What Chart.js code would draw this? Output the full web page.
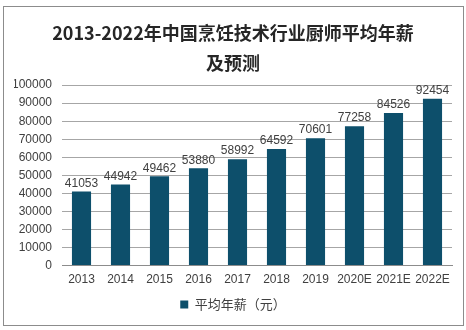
<!DOCTYPE html>
<html>
<head>
<meta charset="utf-8">
<script src="https://cdn.jsdelivr.net/npm/chart.js@4"></script>
<style>
  html, body { margin: 0; padding: 0; background: #fff; }
  #wrap { position: relative; width: 466px; height: 330px; }
  #frame { position: absolute; left: 3px; top: 6px; width: 459px; height: 318px; border: 1px solid #8c8c8c; pointer-events: none; }
</style>
</head>
<body>
<div id="wrap">
  <canvas id="chart" width="466" height="330"></canvas>
  <div id="frame"></div>
</div>
<script>
// 2013-2022年中国烹饪技术行业厨师平均年薪及预测
const years = ['2013', '2014', '2015', '2016', '2017', '2018', '2019', '2020E', '2021E', '2022E'];
const salary = [41053, 44942, 49462, 53880, 58992, 64592, 70601, 77258, 84526, 92454];
const seriesName = '平均年薪（元）';
const titleLines = ['2013-2022年中国烹饪技术行业厨师平均年薪', '及预测'];

// 柱顶数值标签
const valueLabels = {
  id: 'valueLabels',
  afterDatasetsDraw(chart) {
    const ctx = chart.ctx;
    const meta = chart.getDatasetMeta(0);
    ctx.save();
    ctx.font = '12px "Liberation Sans", Arial, sans-serif';
    ctx.fillStyle = '#404040';
    ctx.textAlign = 'center';
    ctx.textBaseline = 'bottom';
    meta.data.forEach((bar, i) => {
      ctx.fillText(String(salary[i]), bar.x, bar.y - 2);
    });
    ctx.restore();
  }
};

new Chart(document.getElementById('chart'), {
  type: 'bar',
  data: {
    labels: years,
    datasets: [{
      label: seriesName,
      data: salary,
      backgroundColor: '#0d4f6b',
      borderWidth: 0,
      categoryPercentage: 1,
      barPercentage: 0.49
    }]
  },
  options: {
    responsive: false,
    animation: false,
    layout: { padding: { left: 14, right: 14, top: 12, bottom: 9 } },
    plugins: {
      title: {
        display: true,
        text: titleLines,
        color: '#262626',
        font: { family: '"Noto Sans CJK SC", sans-serif', size: 18, weight: 'bold', lineHeight: 1.67 },
        padding: { top: 6, bottom: 7 }
      },
      legend: {
        display: true,
        position: 'bottom',
        labels: {
          color: '#404040',
          font: { family: '"Noto Sans CJK SC", sans-serif', size: 13 },
          usePointStyle: true,
          pointStyle: 'rect',
          boxWidth: 8,
          boxHeight: 8,
          padding: 3
        }
      },
      tooltip: { enabled: false }
    },
    scales: {
      x: {
        afterFit(scale) { scale.height += 1; },
        grid: { display: false, drawTicks: false },
        border: { color: '#8c8c8c' },
        ticks: {
          color: '#404040',
          font: { family: '"Liberation Sans", Arial, sans-serif', size: 12 },
          maxRotation: 0,
          autoSkip: false,
          padding: 7
        }
      },
      y: {
        min: 0,
        max: 100000,
        afterFit(scale) { scale.width = 48; },
        grid: { color: '#a6a6a6', drawTicks: false },
        border: { display: false },
        ticks: {
          stepSize: 10000,
          autoSkip: false,
          color: '#404040',
          font: { family: '"Liberation Sans", Arial, sans-serif', size: 12 },
          padding: 10,
          callback: value => String(value)
        }
      }
    }
  },
  plugins: [valueLabels]
});
</script>
</body>
</html>
